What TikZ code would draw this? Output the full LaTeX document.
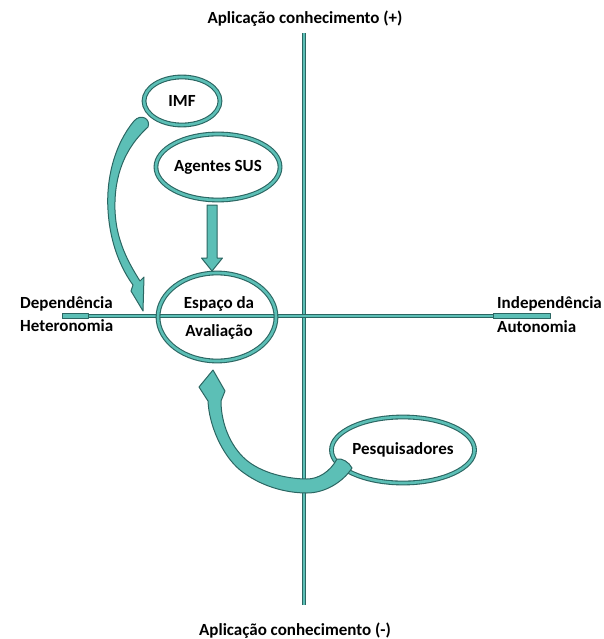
\documentclass[tikz,border=0pt]{standalone}
\usepackage{fontspec}
\setmainfont{Carlito}
\usetikzlibrary{shapes.geometric}
\definecolor{tealf}{HTML}{5CBFB6}
\definecolor{tealdk}{HTML}{2B6662}
\begin{document}
\begin{tikzpicture}[x=1pt,y=-1pt,
  lab/.style={font=\bfseries\fontsize{17}{19}\selectfont, inner sep=0pt},
  ring/.style={ellipse, draw=tealdk, line width=1.1pt, double=tealf, double distance=2.6pt, inner sep=0pt, font=\bfseries\fontsize{17}{19}\selectfont},
  axis/.style={draw=tealdk, line width=0.9pt, double=tealf, double distance=1.5pt},
  band/.style={fill=tealf, draw=tealdk, line width=1pt, line join=round}]
\useasboundingbox (0,0) rectangle (603,639);
% axes
\coordinate (vtop) at (304,33);
\coordinate (vbot) at (304,605);
\coordinate (hl) at (62,316);
\coordinate (hr) at (550,316);
\draw[axis] (vtop) -- (vbot);
\draw[axis] (hl) -- (hr);
\fill[band] (62,313.5) rectangle (88,318.5);
\fill[band] (493,313.5) rectangle (550,318.5);
% labels
\node[lab] (tl) at (305,19) {Aplicação conhecimento (+)};
\node[lab] (bl) at (295,631) {Aplicação conhecimento (-)};
\node[lab, anchor=base west] (dep) at (20,308) {Dependência};
\node[lab, anchor=base west] (het) at (20,331) {Heteronomia};
\node[lab, anchor=base west] (ind) at (497,308) {Independência};
\node[lab, anchor=base west] (aut) at (497,332) {Autonomia};
% ellipses
\node[ring, minimum width=76pt, minimum height=48pt] (imf) at (182,101) {IMF};
\node[ring, minimum width=116pt, minimum height=66pt] (ag) at (218,167) {Agentes SUS};
\node[ring, minimum width=118pt, minimum height=88pt] (esp) at (217,317) {};
\node[lab, anchor=base] (esp1) at (219,308) {Espaço da};
\node[lab, anchor=base] (esp2) at (219,336) {Avaliação};
\node[ring, minimum width=120pt, minimum height=66pt] (pes) at (403,450) {Pesquisadores};
% arrow Agentes SUS -> Espaco
\draw[band] (207,205) -- (217,205) -- (217,258) -- (222.5,258) -- (212,271) -- (201.5,258) -- (207,258) -- cycle;
% arrow IMF -> Espaco
\draw[band] (134,121) .. controls (114,145) and (106,180) .. (108,210)
  .. controls (110,245) and (122,270) .. (133,285)
  -- (131,291) -- (143,311) -- (144,277) -- (140,281)
  .. controls (128,262) and (116,240) .. (115,210)
  .. controls (114,175) and (125,148) .. (148,127)
  .. controls (151,119) and (141,113) .. (134,121) -- cycle;
% arrow Pesquisadores -> Espaco
\draw[band] (337,459) .. controls (330,472) and (318,479) .. (307,479)
  .. controls (290,479) and (260,474) .. (243,457)
  .. controls (228,442) and (221,420) .. (221,401)
  -- (225,391) -- (213,370) -- (199,387) -- (208,401)
  .. controls (209,425) and (222,455) .. (240,470)
  .. controls (260,486) and (285,493) .. (307,493)
  .. controls (325,493) and (343,482) .. (352,468)
  .. controls (349,462) and (342,458) .. (337,459) -- cycle;
\end{tikzpicture}
\end{document}
